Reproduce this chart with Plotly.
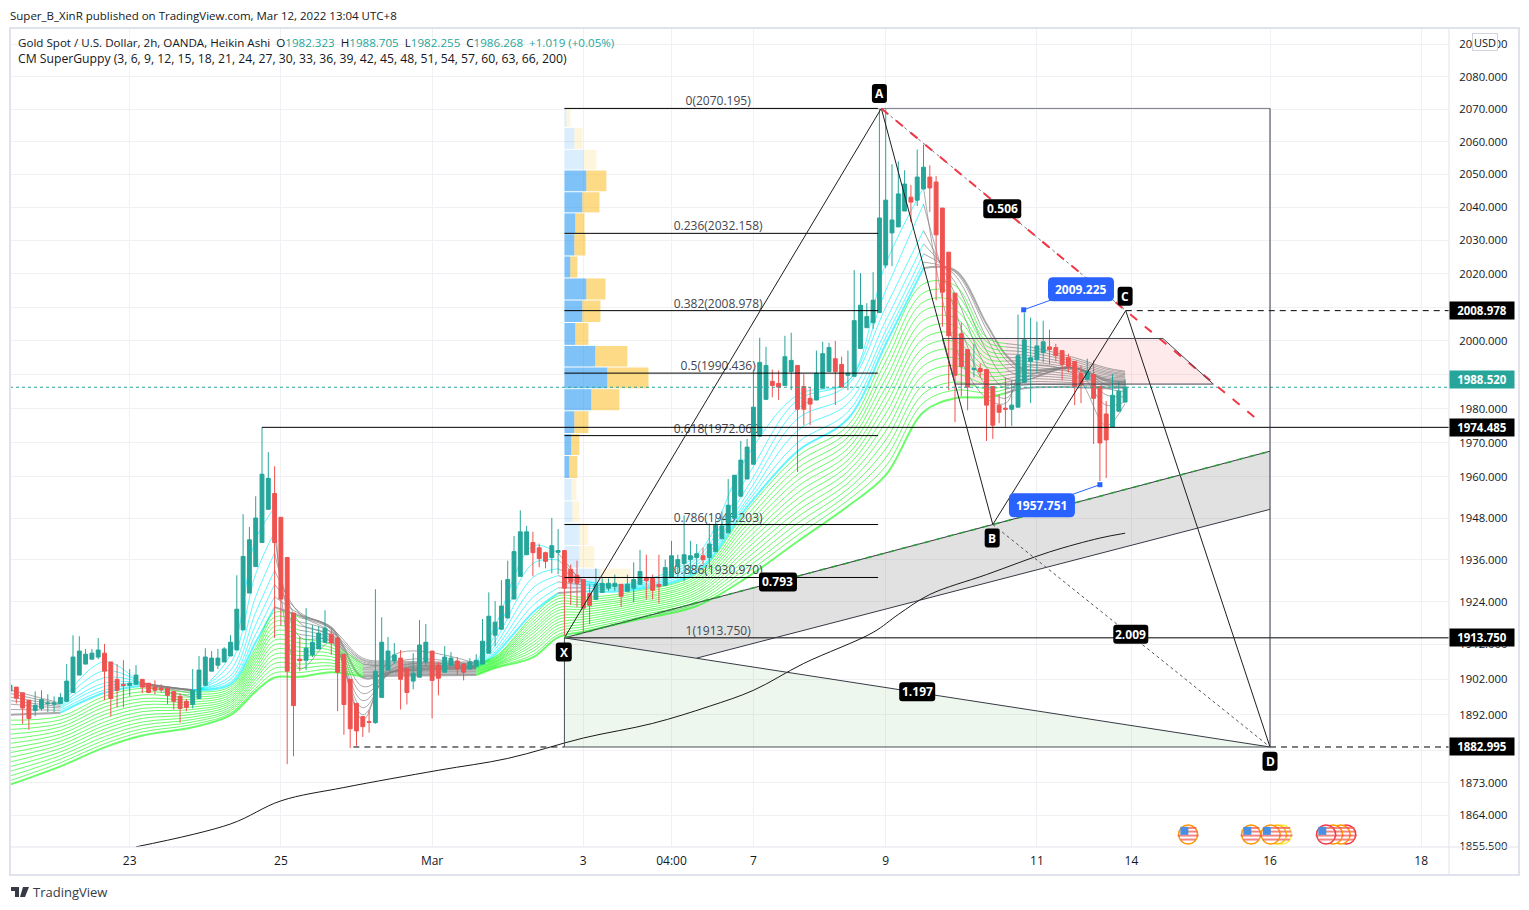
import math
import plotly.graph_objects as go

# ---------- candles (Heikin Ashi, 2h) ----------
opens = [1898.7,1899.8,1898.2,1896.1,1893.2,1893.8,1895.1,1895.0,1895.2,1895.8,1898.3,1903.2,1906.3,1907.7,1908.3,1909.4,1906.9,1902.0,1900.6,1900.3,1900.6,1902.0,1900.9,1899.8,1899.5,1899.5,1898.6,1897.2,1895.8,1894.9,1896.6,1900.3,1904.3,1906.0,1906.9,1908.6,1910.3,1916.0,1926.5,1934.1,1941.0,1950.6,1955.2,1948.3,1936.7,1920.8,1907.7,1907.4,1908.9,1910.6,1912.5,1914.8,1913.7,1909.1,1902.0,1895.2,1891.5,1890.1,1889.8,1896.9,1904.6,1907.2,1908.0,1905.1,1901.5,1902.6,1906.9,1910.0,1906.0,1904.0,1906.0,1907.2,1906.3,1904.9,1905.7,1906.3,1909.4,1914.5,1916.2,1919.4,1924.8,1931.3,1937.5,1941.0,1939.5,1938.1,1936.7,1938.2,1938.7,1933.3,1931.6,1930.4,1926.4,1924.7,1926.7,1927.9,1928.4,1929.0,1927.0,1927.9,1929.0,1931.0,1930.7,1929.0,1928.7,1931.0,1934.1,1935.0,1936.1,1936.7,1937.2,1936.7,1938.4,1942.1,1943.8,1948.0,1954.4,1959.4,1963.7,1971.9,1982.7,1988.0,1987.4,1986.8,1990.9,1992.7,1986.5,1983.0,1982.5,1986.0,1990.9,1994.7,1993.0,1989.8,1989.5,1997.7,2003.9,2005.4,2008.4,2022.6,2032.3,2034.1,2038.9,2043.1,2042.2,2045.6,2049.2,2047.7,2039.8,2026.5,2014.2,2002.1,1997.4,1991.5,1991.8,1991.5,1986.5,1981.0,1980.1,1979.8,1980.4,1987.7,1993.9,1994.4,1996.5,1998.2,1998.0,1997.1,1995.0,1993.9,1990.4,1988.6,1990.1,1986.5,1978.4,1974.6,1979.2,1981.9]
highs = [1900.3,1899.8,1898.2,1896.1,1898.6,1898.9,1897.8,1897.2,1898.1,1906.3,1914.5,1914.2,1910.6,1910.6,1913.7,1912.0,1906.9,1906.3,1907.4,1904.9,1906.0,1902.0,1900.9,1901.7,1900.6,1899.8,1898.6,1898.1,1896.4,1904.9,1908.6,1910.8,1910.0,1910.6,1911.1,1914.5,1931.6,1949.2,1945.5,1954.4,1974.5,1967.2,1963.1,1948.3,1936.7,1920.8,1914.0,1922.2,1917.4,1917.1,1921.6,1916.2,1914.0,1909.1,1902.0,1895.2,1891.5,1893.2,1927.6,1919.6,1914.0,1912.3,1910.3,1905.1,1909.4,1918.8,1917.7,1910.0,1906.9,1911.4,1909.7,1908.3,1906.6,1908.0,1909.1,1919.1,1926.7,1924.2,1930.2,1935.8,1942.9,1950.3,1945.8,1944.1,1940.7,1938.4,1948.1,1944.9,1938.7,1934.7,1935.8,1930.4,1929.0,1933.5,1930.7,1930.7,1931.8,1929.0,1931.8,1935.3,1938.9,1937.5,1931.8,1937.5,1936.1,1941.5,1937.5,1948.9,1941.5,1940.6,1939.5,1946.5,1947.9,1950.0,1959.4,1960.5,1970.5,1971.1,1991.5,2000.9,1998.2,1991.5,1991.2,2001.5,2002.4,1992.7,1990.1,1986.3,1997.1,1999.7,1999.4,2000.0,1995.3,1997.1,2021.1,2020.2,2011.2,2020.5,2070.2,2070.0,2053.1,2054.0,2051.3,2046.8,2057.6,2059.1,2052.8,2049.5,2039.8,2026.5,2014.2,2005.4,1997.4,1999.1,1993.3,1991.5,1986.5,1984.2,1989.2,1988.3,2007.8,2008.4,2006.9,2005.7,2006.0,2003.3,1999.1,1997.1,1996.2,1993.9,1992.7,1994.7,1994.2,1986.5,1982.2,1990.1,1988.0,1988.6]
lows = [1898.7,1895.2,1889.5,1887.8,1891.6,1893.2,1892.8,1892.8,1895.2,1895.8,1898.3,1903.2,1906.3,1907.7,1907.7,1896.1,1891.5,1894.1,1894.1,1897.2,1900.6,1898.1,1898.1,1897.8,1898.3,1895.0,1893.5,1889.8,1893.0,1893.8,1896.6,1900.3,1904.3,1904.9,1906.9,1908.6,1910.3,1916.0,1926.5,1934.1,1941.0,1950.6,1913.7,1917.2,1878.2,1880.4,1904.3,1904.6,1908.3,1910.6,1912.5,1908.9,1893.0,1886.4,1882.7,1883.3,1885.8,1887.0,1889.5,1896.9,1904.6,1906.3,1893.5,1894.9,1899.2,1902.6,1905.7,1891.0,1897.5,1904.0,1906.0,1903.2,1901.7,1904.9,1905.7,1906.3,1909.4,1911.4,1916.2,1919.4,1924.8,1931.3,1937.5,1931.3,1933.9,1933.6,1932.2,1931.9,1914.4,1923.1,1922.5,1915.4,1917.6,1924.7,1926.7,1927.1,1927.1,1922.5,1927.0,1923.9,1929.0,1924.7,1924.7,1923.6,1928.7,1931.0,1930.7,1929.9,1931.8,1933.3,1934.7,1933.3,1938.4,1942.1,1943.8,1948.0,1954.4,1959.4,1963.7,1971.9,1982.7,1983.3,1982.5,1986.8,1985.4,1961.4,1975.1,1975.1,1982.5,1986.0,1990.9,1981.0,1986.3,1985.4,1989.5,1997.7,2003.9,2003.6,2008.4,2021.7,2022.3,2034.1,2038.9,2035.6,2040.4,2045.6,2038.6,2012.1,2004.2,1985.4,1976.0,1983.6,1979.5,1989.2,1989.2,1970.5,1971.1,1975.7,1974.6,1974.9,1980.4,1987.7,1981.6,1990.4,1993.6,1993.0,1993.9,1988.3,1990.6,1981.0,1981.6,1988.6,1969.6,1958.8,1959.7,1974.6,1979.2,1981.9]
closes = [1900.3,1896.7,1893.9,1891.0,1894.7,1896.3,1895.3,1895.3,1896.9,1901.5,1908.3,1910.0,1909.1,1909.4,1910.3,1904.3,1896.6,1898.9,1900.3,1900.9,1903.2,1899.8,1898.3,1898.9,1899.2,1897.5,1895.8,1893.8,1894.1,1898.9,1904.6,1908.3,1908.0,1908.0,1910.6,1912.5,1921.9,1937.0,1941.8,1948.1,1960.8,1959.6,1941.0,1924.8,1904.3,1894.6,1907.3,1910.8,1912.5,1915.1,1916.5,1912.3,1904.0,1894.9,1888.1,1887.5,1888.7,1889.9,1904.3,1912.5,1910.0,1908.9,1902.0,1898.3,1903.7,1911.7,1912.5,1901.7,1902.3,1908.3,1908.0,1904.9,1904.0,1906.9,1907.4,1912.8,1919.9,1918.2,1922.8,1930.4,1938.4,1944.1,1944.1,1938.1,1936.4,1935.6,1940.1,1938.7,1927.9,1929.6,1929.3,1922.2,1923.0,1929.0,1929.3,1929.3,1929.3,1925.6,1929.0,1930.4,1932.7,1930.1,1927.3,1928.4,1933.8,1937.2,1936.1,1937.5,1937.2,1937.8,1936.1,1940.6,1946.0,1945.8,1951.8,1960.5,1964.9,1968.7,1980.4,1993.6,1992.7,1986.8,1986.3,1995.3,1994.2,1979.8,1979.8,1981.3,1990.4,1996.2,1998.0,1990.9,1986.3,1990.4,2006.0,2010.6,2007.2,2012.1,2036.8,2042.2,2036.2,2044.1,2047.1,2041.6,2049.2,2052.2,2045.9,2031.7,2014.5,2001.5,1989.8,1992.4,1986.3,1991.8,1990.9,1981.0,1975.1,1978.9,1979.8,1981.0,1995.6,2000.3,1995.0,1998.5,1999.7,1997.4,1995.6,1993.0,1992.4,1986.5,1987.1,1990.9,1983.0,1969.9,1970.8,1983.9,1985.1,1986.3]
candle_bars = list(range(1, len(opens) + 1))

# ---------- SuperGuppy ribbon: EMA 3..66 read at these bars, fastest first ----------
ribbon_bars = [1,9,16,22,30,36,40,43,47,52,57,62,75,78,84,88,92,100,110,118,126,134,140,146,151,156,159,162,170,175,178]
col_001 = [1899,1898,1897,1896,1895,1893.5,1892,1890.5,1889.2,1887.9,1886.6,1885.3,1884,1882.7,1881.4,1880.1,1878.8,1877.5,1876.2,1874.9,1873.6,1872.5]
col_009 = [1895.3,1895,1894.7,1894.3,1893.9,1893.3,1892.6,1891.6,1890.6,1889.6,1888.6,1887.6,1886.6,1885.6,1884.6,1883.6,1882.6,1881.6,1880.6,1879.6,1878.6,1877.6]
col_016 = [1907,1904.5,1902.5,1901,1900,1899,1898.2,1897.2,1896.2,1895.2,1894.2,1893.1,1892.1,1891.1,1890,1889,1888,1887,1885.9,1884.9,1883.9,1882.9]
col_022 = [1900,1900.8,1901,1901,1900.8,1900.6,1900.2,1899.5,1898.5,1897.6,1896.6,1895.7,1894.8,1893.8,1892.9,1891.9,1891,1890,1889.1,1888.1,1887.2,1886.2]
col_030 = [1897,1898,1898.6,1898.8,1899,1899,1899,1898.4,1897.7,1897,1896.3,1895.6,1894.9,1894.2,1893.5,1892.8,1892.1,1891.4,1890.7,1890,1889.3,1888.5]
col_036 = [1909,1906.5,1904.5,1903,1902,1901.2,1900.6,1900,1899.4,1898.8,1898.3,1897.7,1897.1,1896.5,1895.9,1895.4,1894.8,1894.2,1893.6,1893.1,1892.5,1891.9]
col_040 = [1942,1932,1925.5,1921,1917.5,1914.8,1912.5,1911,1910.1,1909.2,1908.3,1907.5,1906.6,1905.7,1904.8,1903.9,1903,1902.2,1901.3,1900.4,1899.5,1898.6]
col_043 = [1951,1944,1938,1933,1929,1925.5,1922.5,1921,1919.7,1918.4,1917,1915.7,1914.4,1913.1,1911.8,1910.4,1909.1,1907.8,1906.5,1905.1,1903.8,1902.5]
col_047 = [1905,1914,1918,1920.5,1921,1920.5,1920,1919.5,1918.3,1917.1,1915.9,1914.7,1913.5,1912.3,1911.1,1909.9,1908.7,1907.5,1906.3,1905.1,1903.9,1902.7]
col_052 = [1912.5,1913,1914,1915,1916,1916.5,1916.7,1916.4,1915.5,1914.6,1913.7,1912.8,1911.9,1911,1910.2,1909.3,1908.4,1907.5,1906.6,1905.8,1904.9,1904]
col_057 = [1890.7,1892,1894,1896,1898,1900,1902.5,1908,1907.6,1907.3,1906.9,1906.5,1906.2,1905.8,1905.4,1905,1904.7,1904.3,1903.9,1903.5,1903.2,1902.8]
col_062 = [1909,1906.5,1905.2,1904.5,1904.3,1904.2,1904.2,1907.2,1906.9,1906.6,1906.3,1906,1905.7,1905.4,1905.1,1904.8,1904.5,1904.2,1903.9,1903.6,1903.3,1903]
col_075 = [1906.5,1905.8,1905.5,1905.5,1905.4,1905.3,1905.2,1906.9,1906.6,1906.4,1906.1,1905.9,1905.6,1905.3,1905.1,1904.8,1904.6,1904.3,1904.1,1903.8,1903.5,1903.2]
col_078 = [1917,1914.5,1912.8,1911.5,1910.5,1909.7,1909,1908.4,1908.2,1907.9,1907.7,1907.5,1907.2,1907,1906.8,1906.6,1906.3,1906.1,1905.9,1905.7,1905.4,1905.2]
col_084 = [1940,1935,1931,1928,1925.3,1923,1921,1920,1919.2,1918.3,1917.5,1916.6,1915.8,1915,1914.1,1913.3,1912.4,1911.6,1910.7,1909.9,1909,1908.2]
col_088 = [1938,1936,1933.5,1931.5,1929.7,1928,1926.5,1925.7,1924.9,1924,1923.2,1922.3,1921.5,1920.7,1919.8,1919,1918.1,1917.3,1916.4,1915.6,1914.7,1913.9]
col_092 = [1929,1930,1930,1929.5,1928.8,1928,1927,1925.3,1924.6,1923.9,1923.2,1922.5,1921.8,1921.1,1920.4,1919.7,1919,1918.3,1917.6,1916.9,1916.2,1915.5]
col_100 = [1929.5,1929,1928.6,1928.3,1928,1927.7,1927.4,1926.9,1926.3,1925.7,1925.1,1924.6,1924,1923.4,1922.8,1922.2,1921.6,1921,1920.5,1919.9,1919.3,1918.7]
col_110 = [1937.5,1936.5,1935.5,1934.6,1933.8,1933.1,1932.5,1932,1931.3,1930.7,1930,1929.4,1928.7,1928.1,1927.4,1926.7,1926.1,1925.4,1924.8,1924.1,1923.5,1922.8]
col_118 = [1966,1960,1957,1955,1953.5,1952.5,1951.3,1950.3,1948.9,1947.5,1946.2,1944.8,1943.4,1942,1940.7,1939.3,1937.9,1936.5,1935.1,1933.8,1932.4,1931]
col_126 = [1984,1982.5,1980,1977,1973.5,1970,1967.5,1966,1964.2,1962.5,1960.7,1959,1957.2,1955.4,1953.7,1951.9,1950.1,1948.4,1946.6,1944.8,1943.1,1941.3]
col_134 = [1988,1988,1987,1984,1981.5,1979,1977,1975,1973.3,1971.6,1970,1968.3,1966.6,1964.9,1963.3,1961.6,1959.9,1958.2,1956.5,1954.9,1953.2,1951.5]
col_140 = [2023,2015,2010,2006,2003,2001,1999,1996.5,1993.9,1991.4,1988.8,1986.2,1983.6,1981.1,1978.5,1975.9,1973.4,1970.8,1968.2,1965.6,1963.1,1960.5]
col_146 = [2046,2041,2033,2029,2026,2023.5,2021.7,2017,2014.3,2011.6,2008.9,2006.1,2003.4,2000.7,1998,1995.3,1992.6,1989.9,1987.1,1984.4,1981.7,1979]
col_151 = [1998.5,2009,2014,2017.5,2019.6,2020.5,2021,2016.5,2014.1,2011.7,2009.3,2006.9,2004.5,2002.2,1999.8,1997.4,1995,1992.6,1990.2,1987.8,1985.4,1983]
col_156 = [1983,1986.5,1992,1997,2001,2003.5,2005,2001,1999.7,1998.5,1997.2,1996,1994.7,1993.4,1992.2,1990.9,1989.6,1988.4,1987.1,1985.8,1984.6,1983.3]
col_159 = [1981.5,1983,1986,1989,1992,1994.5,1996,1999.2,1998.2,1997.1,1996.1,1995,1994,1992.9,1991.9,1990.8,1989.8,1988.7,1987.7,1986.6,1985.6,1984.5]
col_162 = [1992,1989,1988,1988.4,1989.4,1990.5,1991.5,1998.5,1997.6,1996.7,1995.8,1994.9,1994,1993.1,1992.3,1991.4,1990.5,1989.6,1988.7,1987.8,1986.9,1986]
col_170 = [1990,1991.5,1992,1992,1992,1992,1992,1995,1994.4,1993.8,1993.1,1992.5,1991.9,1991.3,1990.7,1990,1989.4,1988.8,1988.2,1987.6,1986.9,1986.3]
col_175 = [1975,1981,1984,1986,1987,1988,1988.5,1992,1991.6,1991.1,1990.7,1990.3,1989.9,1989.4,1989,1988.6,1988.2,1987.7,1987.3,1986.9,1986.4,1986]
col_178 = [1981.5,1982,1983.5,1985,1986,1987,1987.8,1991,1990.7,1990.3,1990,1989.6,1989.3,1989,1988.6,1988.3,1987.9,1987.6,1987.3,1986.9,1986.6,1986.2]
ribbon_columns = [col_001,col_009,col_016,col_022,col_030,col_036,col_040,col_043,col_047,col_052,col_057,col_062,col_075,col_078,col_084,col_088,col_092,col_100,col_110,col_118,col_126,col_134,col_140,col_146,col_151,col_156,col_159,col_162,col_170,col_175,col_178]
fast_gray_spans = [(1,9),(22,30),(43,75),(88,92),(146,178)]
slow_upper_gray_spans = [(47,75),(159,178)]
slow_lower_gray_spans = [(57,75),(159,178)]

ema200_bars = [21,36,44,54,69,80,92,103,112,119,127,138,142,147,156,166,174,178]
ema200_vals = [1855.3,1861.6,1868,1871.7,1876.5,1879.8,1885.5,1889.6,1894.4,1898.9,1906.5,1915.3,1920.4,1926.1,1931.8,1938.3,1942.3,1943.7]

# ---------- fixed range volume profile (width in bars) ----------
profile_edges = [2070.2,2064.2,2057.5,2051.2,2044.6,2038.2,2031.9,2025.2,2018.6,2012.0,2005.3,1998.5,1992.1,1985.7,1979.2,1972.5,1966.1,1959.4,1952.9,1946.6,1940.0,1933.5,1927.3]
profile_blue = [.32,1.59,3.02,3.49,2.86,1.75,1.59,.95,3.49,2.86,1.75,4.92,6.83,4.29,1.59,1.11,.79,1.11,1.27,2.38,2.38,5.71]
profile_yellow = [.63,1.27,2.06,3.17,2.70,1.43,1.75,1.11,3.02,2.86,2.06,5.08,6.51,4.44,2.22,1.27,1.27,.79,1.11,1.43,2.38,4.76]
profile_solid = [False,False,False,True,True,True,True,True,True,True,True,True,True,True,True,True,True,False,False,False,False,False]

# ---------- harmonic pattern & fib ----------
x_bar, a_bar, b_bar, c_bar, d_bar = 89, 139.3, 157, 178.1, 201
x_px, a_px, b_px, c_px, d_px = 1913.75, 2070.195, 1946.203, 2008.978, 1882.995
fib_end = 138.8
fib_levels = [2070.195,2032.158,2008.978,1990.436,1972.06,1946.203,1930.970,1913.75]
fib_texts = ["0(2070.195)","0.236(2032.158)","0.382(2008.978)","0.5(1990.436)","0.618(1972.060)","0.786(1946.203)","0.886(1930.970)","1(1913.750)"]
channel_upper_end = 1967.5
channel_lower_start, channel_lower_bar = 1908, 110
channel_lower_end = 1950.6
red_end_bar, red_end_price = 199.7, 1975.7
pink_bars = [149,184,192,151]
pink_prices = [2000.7,2000.7,1987.2,1987.2]
last_close = 1986.268
swing_high = 1974.485
swing_bar = 41
swing_low_bar = 55.5

labels_black = [("A",139,2074.8,15),("X",88.9,1909.7,16),("B",156.9,1942.3,15),("C",178,2013.3,15),("D",201,1879,15),("0.506",158.5,2039.6,38),("0.793",122.9,1929.7,38),("1.197",145,1898.5,36),("2.009",178.9,1914.8,35)]
labels_blue = [("2009.225",171,2015.4,161.9,2009.225),("1957.751",164.8,1951.8,174,1957.751)]
axis_labels = [(2008.978,"#000000"),(1988.52,"#26a69a"),(1974.485,"#000000"),(1913.75,"#000000"),(1882.995,"#000000")]

y_ticks = [2090,2080,2070,2060,2050,2040,2030,2020,2010,2000,1990,1980,1970,1960,1948,1936,1924,1912,1902,1892,1882,1873,1864,1855.5]
y_tick_hidden = [2010,1882]
x_ticks = [20,44,68,92,106,119,140,164,179,201,225]
x_labels = ["23","25","Mar","3","04:00","7","9","11","14","16","18"]

flag_bars = [188,202.9,202.1,198,201.1,213.1,212.2,211,209.9]
flag_rings = ["#ff9800","#ffeb3b","#ffc107","#ff9800","#ff9800","#f23645","#ff9800","#ff9800","#f23645"]
flag_price = 1858.7

FONT = "Open Sans"
TEAL, RED = "#26a69a", "#ef5350"
W, H = 1529, 910
L, R, T, B = 10, 1449, 28, 847
BAR_MIN, BAR_MAX = 1, 229.41
Y_MIN, Y_MAX = 1855.25, 2095.05

fig = go.Figure()


def seg(x, y, color="#000000", width=1, dash=None, yaxis="y3", shape="linear"):
    fig.add_trace(go.Scatter(x=x, y=y, mode="lines", yaxis=yaxis, hoverinfo="skip", showlegend=False,
                             line=dict(color=color, width=width, dash=dash, shape=shape)))


def poly(x, y, fill, yaxis="y"):
    fig.add_trace(go.Scatter(x=x, y=y, mode="lines", yaxis=yaxis, fill="toself", fillcolor=fill, hoverinfo="skip",
                             showlegend=False, line=dict(color="rgba(0,0,0,0)", width=0)))


# volume profile
base = 89
for i in range(len(profile_blue)):
    y0, y1 = profile_edges[i], profile_edges[i + 1] + 0.3
    bb, yy = profile_blue[i], profile_yellow[i]
    blue = "rgba(33,150,243,.58)" if profile_solid[i] else "rgba(33,150,243,.16)"
    yel = "rgba(251,192,45,.58)" if profile_solid[i] else "rgba(251,192,45,.16)"
    poly([base, base + bb, base + bb, base, base], [y1, y1, y0, y0, y1], blue)
    poly([base + bb, base + bb + yy, base + bb + yy, base + bb, base + bb], [y1, y1, y0, y0, y1], yel)

# shaded pattern regions
poly([x_bar, x_bar, d_bar, x_bar], [x_px, d_px, d_px, x_px], "rgba(76,175,80,.10)")
poly([x_bar, d_bar, d_bar, channel_lower_bar, x_bar], [x_px, channel_upper_end, channel_lower_end, channel_lower_start, x_px], "rgba(120,120,120,.22)")
poly(pink_bars + pink_bars[:1], pink_prices + pink_prices[:1], "rgba(242,54,69,.11)")

# ribbon
ema_lines = [list(v) for v in zip(*ribbon_columns)]


def in_spans(a, b, spans):
    return any(s <= a and b <= e for s, e in spans)


for n, vals in enumerate(ema_lines):
    if n < 7:
        spans, col = fast_gray_spans, "rgba(0,240,255,.62)"
        w = 2 if n == 6 else 1
    else:
        spans = slow_upper_gray_spans if n < 12 else slow_lower_gray_spans
        col = "rgba(30,250,30,.66)"
        w = 2 if n == 21 else 1
    start = 0
    last = len(ribbon_bars) - 1
    for k in range(1, last + 1):
        cur = in_spans(ribbon_bars[k - 1], ribbon_bars[k], spans)
        nxt = in_spans(ribbon_bars[k], ribbon_bars[k + 1], spans) if k < last else None
        if cur != nxt:
            c = "rgba(125,125,125,.65)" if cur else col
            seg(ribbon_bars[start:k + 1], vals[start:k + 1], c, w, yaxis="y", shape="spline")
            start = k
seg(ema200_bars, ema200_vals, "#1a1a1a", 1, yaxis="y", shape="spline")

# fib labels sit under the candles
fig.add_trace(go.Scatter(x=[113.4] * len(fib_levels), y=fib_levels, text=fib_texts, mode="text", textposition="top center",
                         yaxis="y", hoverinfo="skip", showlegend=False, textfont=dict(family=FONT, size=12, color="#434651")))

# candles
fig.add_trace(go.Candlestick(x=candle_bars, open=opens, high=highs, low=lows, close=closes, yaxis="y2", showlegend=False,
                             hoverinfo="skip", whiskerwidth=0,
                             increasing=dict(line=dict(color=TEAL, width=1), fillcolor=TEAL),
                             decreasing=dict(line=dict(color=RED, width=1), fillcolor=RED)))

# drawings
seg([BAR_MIN, BAR_MAX], [last_close, last_close], TEAL, 1, "dot")
for lv in fib_levels[:7]:
    seg([89, fib_end], [lv, lv], "#000000", 1)
seg([89, BAR_MAX], [fib_levels[7]] * 2, "#000000", 1)
seg([swing_bar, BAR_MAX], [swing_high, swing_high], "#000000", 1)
seg([c_bar, BAR_MAX], [c_px, c_px], "#000000", 1, "6px,5px")
seg([swing_low_bar, x_bar], [d_px, d_px], "#000000", 1, "6px,5px")
seg([d_bar, BAR_MAX], [d_px, d_px], "#000000", 1, "6px,5px")
seg([x_bar, d_bar], [d_px, d_px], "#4a4e5a", 1)
seg([x_bar, x_bar], [x_px, d_px], "#4a4e5a", 1)
seg([a_bar, d_bar], [a_px, a_px], "#787b86", 1)
seg([d_bar, d_bar], [a_px, d_px], "#363a45", 1)
seg([x_bar, a_bar, b_bar, c_bar, d_bar], [x_px, a_px, b_px, c_px, d_px], "#1e1e1e", 1)
seg([x_bar, d_bar], [x_px, d_px], "#363a45", 1)
seg([x_bar, d_bar], [x_px, channel_upper_end], "#363a45", 1)
seg([x_bar, d_bar], [x_px, channel_upper_end], "#2e9e3c", 1.5, "6px,6px")
seg([channel_lower_bar, d_bar], [channel_lower_start, channel_lower_end], "#363a45", 1)
seg([a_bar, c_bar], [a_px, c_px], "#787b86", 1, "dot")
seg([b_bar, d_bar], [b_px, d_px], "#555555", 1, "dot")
seg([a_bar, red_end_bar], [a_px, red_end_price], "#f23645", 2, "9px,10px")
seg(pink_bars + pink_bars[:1], pink_prices + pink_prices[:1], "#434651", 1)

# callout leader lines
for t, lx, ly, px_, py_ in labels_blue:
    seg([lx, px_], [ly, py_], "#2962ff", 1)
    fig.add_trace(go.Scatter(x=[px_], y=[py_], mode="markers", yaxis="y3", hoverinfo="skip", showlegend=False,
                             marker=dict(symbol="square", size=5, color="#2962ff")))

# US event flags
for bx, ring in zip(flag_bars, flag_rings):
    fig.add_trace(go.Scatter(x=[bx], y=[flag_price], mode="markers", yaxis="y3", hoverinfo="skip", showlegend=False,
                             marker=dict(size=19, color="#ffffff", line=dict(color=ring, width=1.5))))
    fig.add_trace(go.Scatter(x=[bx, bx, bx + .65, bx + .65], y=[flag_price - .3, flag_price - 1.4, flag_price + .8, flag_price + 1.8],
                             mode="markers", yaxis="y3", hoverinfo="skip", showlegend=False,
                             marker=dict(symbol="line-ew", size=[15, 11, 7, 6], line=dict(color="#ef5350", width=2))))
    fig.add_trace(go.Scatter(x=[bx - .6], y=[flag_price + 1], mode="markers", yaxis="y3", hoverinfo="skip", showlegend=False,
                             marker=dict(symbol="square", size=8, color="#4a90e2")))


def px_x(p):
    return (p - L) / (R - L)


def px_y(p):
    return (B - p) / (B - T)


def bar_to_px(b):
    return L + (b - BAR_MIN) / (BAR_MAX - BAR_MIN) * (R - L)


def price_to_px(p):
    return T + (math.log(Y_MAX) - math.log(p)) / (math.log(Y_MAX) - math.log(Y_MIN)) * (B - T)


def rounded(cx, cy, w, h, r, color):
    x0, x1, y0, y1 = cx - w / 2, cx + w / 2, cy - h / 2, cy + h / 2
    X, Y = px_x, px_y
    path = (f"M {X(x0 + r)} {Y(y0)} L {X(x1 - r)} {Y(y0)} Q {X(x1)} {Y(y0)} {X(x1)} {Y(y0 + r)} "
            f"L {X(x1)} {Y(y1 - r)} Q {X(x1)} {Y(y1)} {X(x1 - r)} {Y(y1)} L {X(x0 + r)} {Y(y1)} "
            f"Q {X(x0)} {Y(y1)} {X(x0)} {Y(y1 - r)} L {X(x0)} {Y(y0 + r)} Q {X(x0)} {Y(y0)} {X(x0 + r)} {Y(y0)} Z")
    return dict(type="path", xref="paper", yref="paper", path=path, fillcolor=color, line=dict(width=0), layer="above")


edge = "#e0e3eb"
shapes = [
    dict(type="rect", xref="paper", yref="paper", x0=px_x(10), x1=px_x(1519), y0=px_y(875), y1=px_y(28), line=dict(color=edge, width=2)),
    dict(type="line", xref="paper", yref="paper", x0=px_x(10), x1=px_x(1519), y0=px_y(847), y1=px_y(847), line=dict(color=edge, width=1)),
    dict(type="line", xref="paper", yref="paper", x0=px_x(1449), x1=px_x(1449), y0=px_y(875), y1=px_y(28), line=dict(color=edge, width=1)),
    dict(type="path", xref="paper", yref="paper", fillcolor="#363a45", line=dict(width=0),
         path=f"M {px_x(11)} {px_y(887)} L {px_x(19)} {px_y(887)} L {px_x(19)} {px_y(897)} L {px_x(15)} {px_y(897)} L {px_x(15)} {px_y(891)} L {px_x(11)} {px_y(891)} Z "
              f"M {px_x(23)} {px_y(887)} L {px_x(29)} {px_y(887)} L {px_x(25)} {px_y(897)} L {px_x(20)} {px_y(897)} Z"),
]

annots = []
for t, bx, pr, bw in labels_black:
    shapes.append(rounded(bar_to_px(bx), price_to_px(pr), bw, 19, 3, "#000000"))
    annots.append(dict(x=bx, y=math.log10(pr), xref="x", yref="y3", text=f"<b>{t}</b>", showarrow=False,
                       font=dict(family=FONT, size=12, color="#ffffff")))
for t, bx, pr, _, _ in labels_blue:
    shapes.append(rounded(bar_to_px(bx), price_to_px(pr), 66, 24, 5, "#2962ff"))
    annots.append(dict(x=bx, y=math.log10(pr), xref="x", yref="y3", text=f"<b>{t}</b>", showarrow=False,
                       font=dict(family=FONT, size=12, color="#ffffff")))
for pr, col in axis_labels:
    annots.append(dict(x=1, y=math.log10(pr), xref="paper", yref="y3", xanchor="left", text=f"<b>{pr:.3f}</b>", showarrow=False,
                       bgcolor=col, width=62, height=15, font=dict(family=FONT, size=11.5, color="#ffffff")))


def page(txt, px, py, size=12, color="#131722", xanchor="left"):
    annots.append(dict(x=px_x(px), y=px_y(py), xref="paper", yref="paper", text=txt, showarrow=False,
                       xanchor=xanchor, yanchor="middle", font=dict(family=FONT, size=size, color=color)))


page("Super_B_XinR published on TradingView.com, Mar 12, 2022 13:04 UTC+8", 8, 15, size=11.5)
v = lambda s: f'<span style="color:{TEAL}">{s}</span>'
page("Gold Spot / U.S. Dollar, 2h, OANDA, Heikin Ashi  O" + v("1982.323") + "  H" + v("1988.705") + "  L" + v("1982.255") +
     "  C" + v("1986.268") + "  " + v("+1.019 (+0.05%)"), 16, 42, size=11.6)
page("CM SuperGuppy (3, 6, 9, 12, 15, 18, 21, 24, 27, 30, 33, 36, 39, 42, 45, 48, 51, 54, 57, 60, 63, 66, 200)", 16, 59, size=12.2)
page("TradingView", 31, 892, size=13, color="#363a45")
annots.append(dict(x=px_x(1484.5), y=px_y(42), xref="paper", yref="paper", text="USD", showarrow=False, xanchor="center", yanchor="middle",
                   width=24, height=16, bgcolor="#ffffff", bordercolor="#d1d4dc", borderwidth=1, borderpad=0,
                   font=dict(family=FONT, size=11, color="#131722")))

grid = "#f0f1f4"
yr = [math.log10(Y_MIN), math.log10(Y_MAX)]
y_text = ["" if t in y_tick_hidden else f"{t:.3f}" for t in y_ticks]
fig.update_layout(
    width=W, height=H, margin=dict(l=L, r=W - R, t=T, b=H - B), paper_bgcolor="#ffffff", plot_bgcolor="#ffffff",
    showlegend=False, boxgap=0.12, boxmode="overlay", annotations=annots, shapes=shapes, hovermode=False,
    font=dict(family=FONT, size=12, color="#131722"),
    xaxis=dict(range=[BAR_MIN, BAR_MAX], tickmode="array", tickvals=x_ticks, ticktext=x_labels, showgrid=True, gridcolor=grid,
               zeroline=False, ticks="outside", ticklen=3, tickcolor="rgba(0,0,0,0)", rangeslider=dict(visible=False),
               tickfont=dict(family=FONT, size=12, color="#131722"), showline=False),
    yaxis=dict(type="log", range=yr, side="right", tickmode="array", tickvals=y_ticks, ticktext=y_text,
               showgrid=True, gridcolor=grid, zeroline=False, ticks="outside", ticklen=7, tickcolor="rgba(0,0,0,0)",
               tickfont=dict(family=FONT, size=11.3, color="#131722"), showline=False),
    yaxis2=dict(type="log", range=yr, overlaying="y", side="right", visible=False),
    yaxis3=dict(type="log", range=yr, overlaying="y", side="right", visible=False),
)

fig.write_html("out.html", post_script="document.body.style.margin='0';", config=dict(displayModeBar=False))
